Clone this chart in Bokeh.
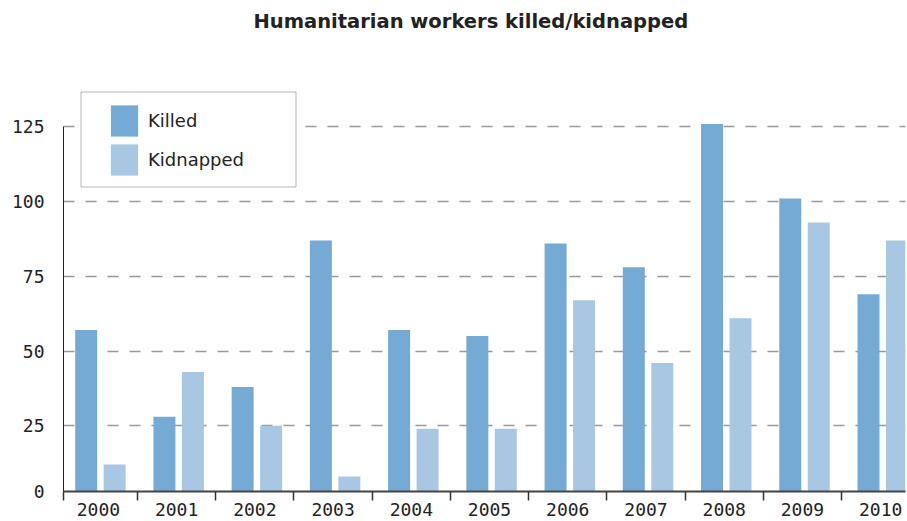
from bokeh.plotting import figure
from bokeh.models import ColumnDataSource, FixedTicker, Range1d, Legend, LegendItem, BoxAnnotation
from bokeh.embed import file_html
from bokeh.resources import INLINE
from bokeh.transform import dodge

title_text = "Humanitarian workers killed/kidnapped"
years = ["2000", "2001", "2002", "2003", "2004", "2005", "2006", "2007", "2008", "2009", "2010"]
killed = [57, 28, 38, 87, 57, 55, 86, 78, 126, 101, 69]
kidnapped = [12, 43, 25, 8, 24, 24, 67, 46, 61, 93, 87]
y_ticks = [25, 50, 75, 100, 125]

idx = list(range(len(years)))
src = ColumnDataSource(data=dict(x=idx, killed=killed, kidnapped=kidnapped))

W, H = 907, 521
Y_START = 3
p = figure(width=W, height=H, output_backend="svg", toolbar_location=None,
           x_range=Range1d(-0.446, 10.317), y_range=Range1d(Y_START, 153.9),
           min_border_left=63, min_border_right=2, min_border_top=0, min_border_bottom=30)

# legend frame box (drawn under the legend entries)
box = BoxAnnotation(left=80.5, right=295.5, top=91.5, bottom=186.5,
                    left_units="canvas", right_units="canvas",
                    top_units="canvas", bottom_units="canvas",
                    fill_color="white", fill_alpha=1,
                    line_color="#111111", line_width=1, level="annotation")
p.add_layout(box)

r1 = p.vbar(x=dodge("x", -0.156), width=0.281, top="killed", bottom=0, source=src,
            fill_color="#74aad4", line_color=None)
r2 = p.vbar(x=dodge("x", 0.208), width=0.281, top="kidnapped", bottom=0, source=src,
            fill_color="#a7c7e2", line_color=None)

p.title.text = title_text
p.title.text_font = "DejaVu Sans"
p.title.text_font_style = "bold"
p.title.text_font_size = "19.5px"
p.title.text_color = "#222222"
p.title.align = "left"
p.title.offset = 190
p.title.standoff = 15

p.outline_line_color = None
p.xgrid.grid_line_color = None
p.ygrid.grid_line_color = "#999999"
p.ygrid.grid_line_width = 1.5
p.ygrid.grid_line_dash = "11 11"

# y axis
p.yaxis.ticker = FixedTicker(ticks=[Y_START] + y_ticks)
p.yaxis.major_label_overrides = {Y_START: "0"}
p.yaxis.bounds = (Y_START, 125)
p.yaxis.axis_line_color = "#222222"
p.yaxis.axis_line_width = 1
p.yaxis.major_tick_in = 0
p.yaxis.major_tick_out = 0
p.yaxis.minor_tick_line_color = None
p.yaxis.major_label_standoff = 19
p.yaxis.major_label_text_font = "DejaVu Sans Mono"
p.yaxis.major_label_text_font_size = "18px"
p.yaxis.major_label_text_color = "#222222"

# x axis
bounds = [-0.446] + [i + 0.5 for i in idx[:-1]]
p.xaxis.ticker = FixedTicker(ticks=idx, minor_ticks=bounds)
p.xaxis.major_label_overrides = {i: y for i, y in zip(idx, years)}
p.xaxis.axis_line_color = "#444444"
p.xaxis.axis_line_width = 2
p.xaxis.major_tick_in = 0
p.xaxis.major_tick_out = 0
p.xaxis.minor_tick_in = 0
p.xaxis.minor_tick_out = 9
p.xaxis.minor_tick_line_color = "#333333"
p.xaxis.minor_tick_line_width = 1.5
p.xaxis.major_label_standoff = 2
p.xaxis.major_label_text_font = "DejaVu Sans Mono"
p.xaxis.major_label_text_font_size = "18px"
p.xaxis.major_label_text_color = "#222222"

legend = Legend(items=[LegendItem(label="Killed", renderers=[r1]),
                       LegendItem(label="Kidnapped", renderers=[r2])],
                location=(44, 312))
legend.border_line_color = None
legend.background_fill_alpha = 0
legend.glyph_width = 34
legend.glyph_height = 39
legend.spacing = 0
legend.padding = 0
legend.margin = 0
legend.label_standoff = 7
legend.label_text_font = "DejaVu Sans"
legend.label_text_font_size = "18px"
legend.label_text_color = "#222222"
p.add_layout(legend, "center")

open("out.html", "w").write(file_html(p, INLINE))
